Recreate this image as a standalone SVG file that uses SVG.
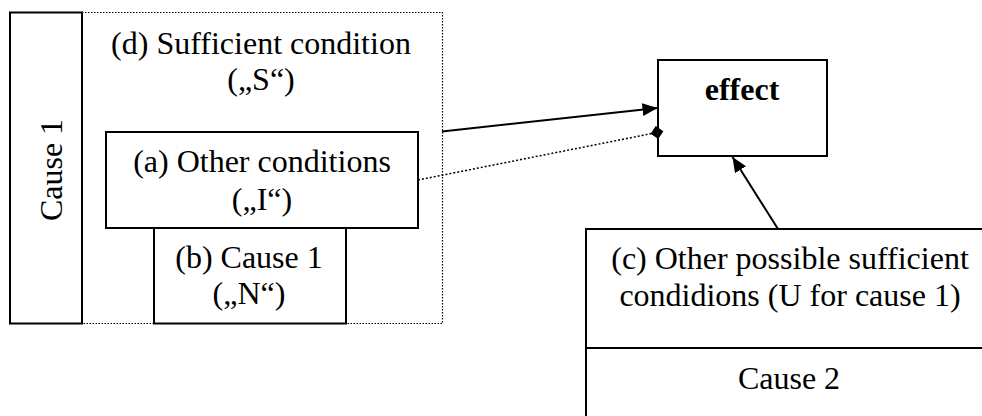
<svg xmlns="http://www.w3.org/2000/svg" width="982" height="416" viewBox="0 0 982 416">
  <style>
    .box { fill: #ffffff; stroke: #000000; stroke-width: 2; }
    .dotted-box { fill: none; stroke: #000000; stroke-width: 1.2; stroke-dasharray: 1.5 1.5; }
    .label { font-family: "Liberation Serif", "Times New Roman", serif; font-size: 32px; fill: #000000; text-anchor: middle; }
    .bold { font-weight: bold; }
    .link { fill: none; stroke: #000000; stroke-width: 2; }
    .link-dotted { fill: none; stroke: #000000; stroke-width: 1.5; stroke-dasharray: 2 2; }
  </style>
  <defs>
    <marker id="arrow" markerUnits="userSpaceOnUse" markerWidth="16" markerHeight="14" refX="15" refY="6.5" orient="auto">
      <path d="M0,0 L15,6.5 L0,13 Z" fill="#000000"/>
    </marker>
    <marker id="diamond" markerUnits="userSpaceOnUse" markerWidth="14" markerHeight="14" refX="6.5" refY="6.5" orient="auto">
      <path d="M0,6.5 L6.5,0 L13,6.5 L6.5,13 Z" fill="#000000"/>
    </marker>
  </defs>

  <rect width="982" height="416" fill="#ffffff"/>

  <!-- (d) sufficient condition: dotted frame -->
  <g id="sufficient-condition">
    <rect class="dotted-box" x="82" y="12.5" width="360.5" height="311"/>
    <text class="label" x="261" y="54">(d) Sufficient condition</text>
    <text class="label" x="261" y="90">(„S“)</text>
  </g>

  <!-- vertical Cause 1 bar -->
  <g id="cause1-bar">
    <rect class="box" x="10" y="12.5" width="72" height="311"/>
    <text class="label" x="62" y="170" transform="rotate(-90 62 170)">Cause 1</text>
  </g>

  <!-- (a) other conditions -->
  <g id="other-conditions">
    <rect class="box" x="106" y="132" width="312" height="96"/>
    <text class="label" x="262" y="172">(a) Other conditions</text>
    <text class="label" x="262" y="210">(„I“)</text>
  </g>

  <!-- (b) cause 1 -->
  <g id="cause1">
    <rect class="box" x="154" y="228" width="192" height="95.5"/>
    <text class="label" x="249" y="268">(b) Cause 1</text>
    <text class="label" x="249" y="304">(„N“)</text>
  </g>

  <!-- effect -->
  <g id="effect">
    <rect class="box" x="658" y="60" width="169" height="96"/>
    <text class="label bold" x="742" y="100">effect</text>
  </g>

  <!-- (c) other sufficient conditions / Cause 2 -->
  <g id="other-sufficient">
    <rect class="box" x="586" y="229" width="420" height="210"/>
    <line x1="586" y1="348" x2="982" y2="348" stroke="#000000" stroke-width="2"/>
    <text class="label" x="790" y="269">(c) Other possible sufficient</text>
    <text class="label" x="790" y="306">condidions (U for cause 1)</text>
    <text class="label" x="789" y="389">Cause 2</text>
  </g>

  <!-- connectors -->
  <g id="connectors">
    <line class="link" x1="442" y1="131.5" x2="657.5" y2="108" marker-end="url(#arrow)"/>
    <line class="link-dotted" x1="418" y1="180" x2="657" y2="132.5" marker-end="url(#diamond)"/>
    <line class="link" x1="778" y1="229" x2="732.5" y2="157" marker-end="url(#arrow)"/>
  </g>
</svg>
